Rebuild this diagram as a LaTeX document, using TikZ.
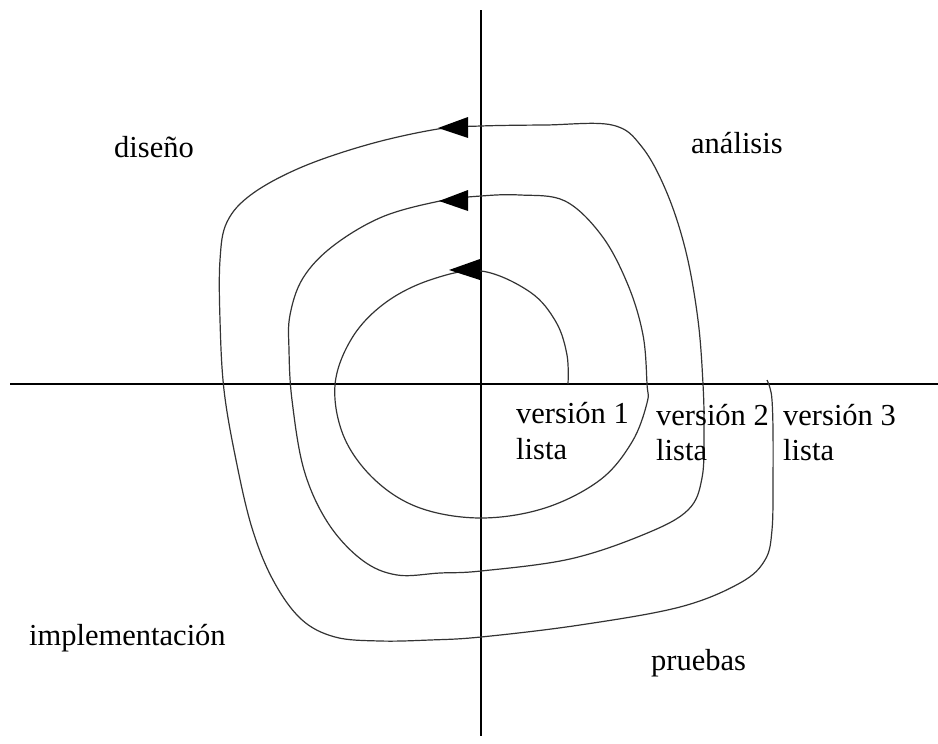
\documentclass[tikz,border=0pt]{standalone}
\usepackage{fontspec}
\setmainfont{Liberation Serif}
\begin{document}
\begin{tikzpicture}[x=1pt,y=-1pt,
  axis/.style={line width=1.3pt,black},
  spiralline/.style={line width=1.2pt,black!80},
  arrowhead/.style={fill=black,draw=none},
  lbl/.style={anchor=base west,inner sep=0pt,font=\fontsize{30.5}{36}\selectfont}]
\useasboundingbox (0,0) rectangle (938,744);
% axes
\coordinate (xl) at (10,384);
\coordinate (xr) at (938,384);
\coordinate (yt) at (481,10);
\coordinate (yb) at (481,736);
\draw[axis] (xl) -- (xr);
\draw[axis] (yt) -- (yb);
% spiral
\draw[spiralline] plot[smooth,tension=0.6] coordinates {
 (568,384) (567,355) (556,322) (530,292) (481,271)
 (430,280) (385,303) (352,338) (335,385)
 (344,437) (375,480) (420,508) (481,518)
 (545,508) (600,480) (632,442) (647,403) (647,384)
 (643,335) (628,285) (602,236) (565,201) (520,195) (481,196)
 (440,201) (382,217) (333,246) (303,278) (290,315)
 (289,350) (292,400) (304,470) (328,523) (362,560) (397,575)
 (440,573) (481,571) (570,559) (645,534) (688,510) (702,478)
 (704,430) (703,384) (698,320) (686,252) (667,193) (642,147) (612,125)
 (545,125) (481,126)
 (438,129) (370,144) (302,167) (252,194) (227,222) (220,260)
 (220,320) (224,390) (236,460) (252,528) (273,580) (301,619) (335,637)
 (380,641) (430,640) (481,637) (580,625) (680,607) (740,583)
 (765,560) (772,530) (773,480) (773,430) (772,400) (770,388) (767,380)};
% arrowheads
\fill[arrowhead] (438,128) -- (468,117) -- (468,138) -- cycle;
\fill[arrowhead] (439,201) -- (468,190) -- (468,211) -- cycle;
\fill[arrowhead] (449,270) -- (480,259) -- (480,280) -- cycle;
% labels
\node[lbl] (diseno) at (114,157) {diseño};
\node[lbl] (analisis) at (691,153) {análisis};
\node[lbl] (v1) at (516,423) {versión 1};
\node[lbl] (v1l) at (516,459) {lista};
\node[lbl] (v2) at (656,425) {versión 2};
\node[lbl] (v2l) at (656,460) {lista};
\node[lbl] (v3) at (783,425) {versión 3};
\node[lbl] (v3l) at (783,460) {lista};
\node[lbl] (impl) at (29,645) {implementación};
\node[lbl] (pruebas) at (651,670) {pruebas};
\end{tikzpicture}
\end{document}
